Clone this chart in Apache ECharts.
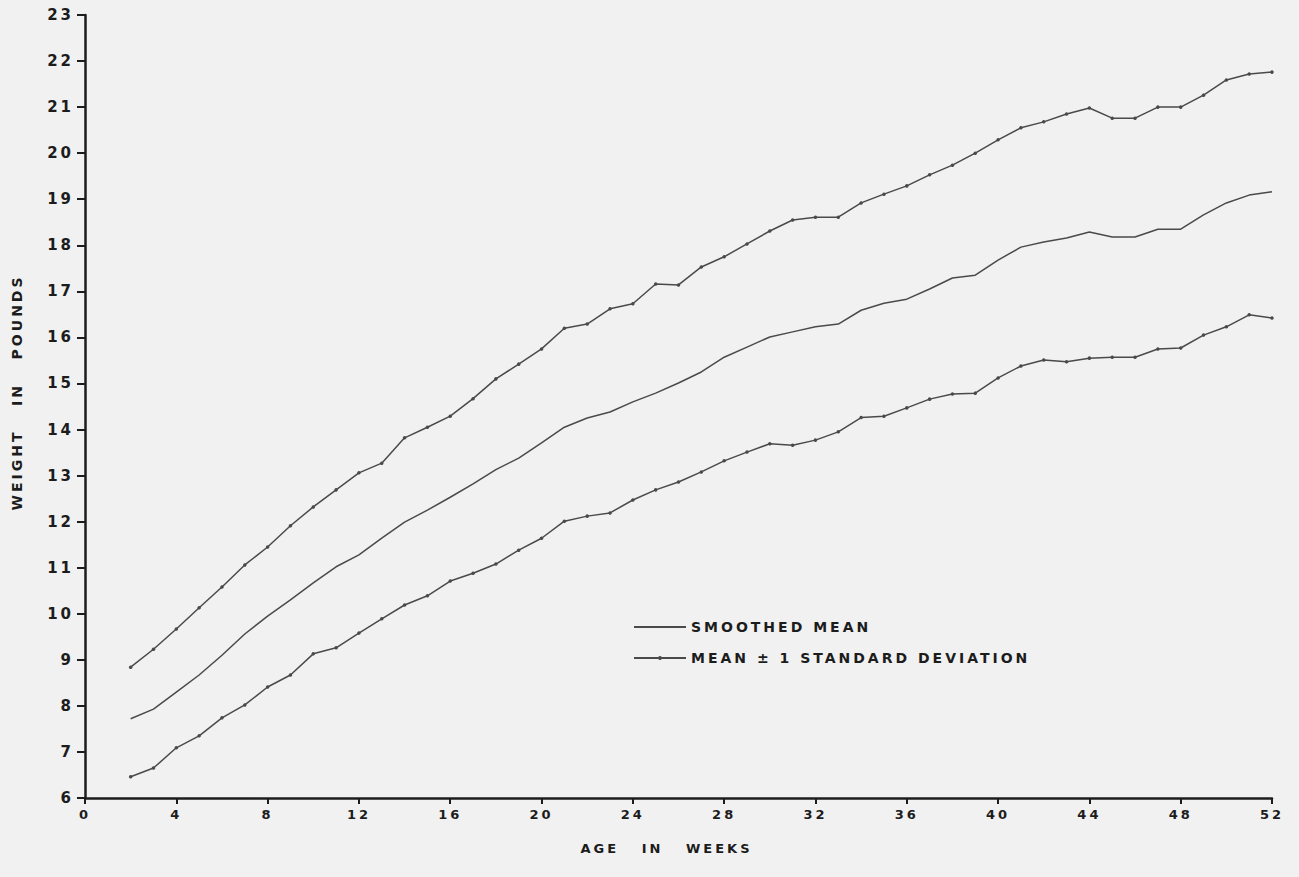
<!DOCTYPE html>
<html>
<head>
<meta charset="utf-8">
<script src="https://cdn.jsdelivr.net/npm/echarts@6/dist/echarts.min.js"></script>
<style>
  html, body { margin: 0; padding: 0; background: #f1f1f1; }
  #chart { width: 1299px; height: 877px; }
  #chart text { letter-spacing: 3px; }
</style>
</head>
<body>
<div id="chart"></div>
<script>
// Infant weight by age: smoothed mean and mean ± 1 standard deviation (pounds)
const weeks = [2, 3, 4, 5, 6, 7, 8, 9, 10, 11, 12, 13, 14, 15, 16, 17, 18, 19, 20, 21,
  22, 23, 24, 25, 26, 27, 28, 29, 30, 31, 32, 33, 34, 35, 36, 37, 38, 39, 40, 41,
  42, 43, 44, 45, 46, 47, 48, 49, 50, 51, 52];

const upperSD = [8.84, 9.23, 9.67, 10.13, 10.58, 11.06, 11.45, 11.91, 12.32, 12.69,
  13.06, 13.27, 13.82, 14.05, 14.29, 14.67, 15.10, 15.42, 15.75, 16.20,
  16.29, 16.62, 16.73, 17.16, 17.14, 17.53, 17.75, 18.03, 18.31, 18.55,
  18.61, 18.61, 18.92, 19.11, 19.29, 19.53, 19.74, 20.00, 20.29, 20.55,
  20.68, 20.85, 20.98, 20.76, 20.76, 21.00, 21.00, 21.26, 21.59, 21.72, 21.76];

const smoothedMean = [7.72, 7.93, 8.30, 8.67, 9.10, 9.56, 9.95, 10.30, 10.67, 11.02,
  11.28, 11.64, 11.99, 12.25, 12.53, 12.82, 13.13, 13.38, 13.71, 14.05,
  14.25, 14.38, 14.60, 14.79, 15.01, 15.25, 15.57, 15.79, 16.01, 16.12,
  16.23, 16.29, 16.59, 16.74, 16.83, 17.05, 17.29, 17.35, 17.68, 17.96,
  18.07, 18.16, 18.29, 18.18, 18.18, 18.35, 18.35, 18.66, 18.92, 19.09, 19.16];

const lowerSD = [6.46, 6.65, 7.09, 7.35, 7.74, 8.02, 8.41, 8.67, 9.13, 9.26,
  9.58, 9.89, 10.19, 10.39, 10.71, 10.88, 11.08, 11.38, 11.64, 12.01,
  12.12, 12.19, 12.47, 12.69, 12.86, 13.08, 13.32, 13.51, 13.69, 13.66,
  13.77, 13.95, 14.26, 14.29, 14.47, 14.66, 14.77, 14.79, 15.12, 15.38,
  15.51, 15.47, 15.55, 15.57, 15.57, 15.75, 15.77, 16.05, 16.23, 16.49, 16.42];

const MEAN_NAME = 'SMOOTHED MEAN';
const SD_NAME = 'MEAN \u00B1 1 STANDARD DEVIATION';

const ink = '#1c1c1c';
const pen = '#4a4a4a';
const font = '"DejaVu Sans", sans-serif';

const pairs = vals => weeks.map((w, i) => [w, vals[i]]);

const sdSeries = (vals) => ({
  name: SD_NAME,
  type: 'line',
  data: pairs(vals),
  symbol: 'circle',
  symbolSize: 3.5,
  showSymbol: true,
  lineStyle: { color: pen, width: 1.5 },
  itemStyle: { color: pen },
  emphasis: { disabled: true },
  silent: true,
  z: 3
});

const chart = echarts.init(document.getElementById('chart'), null, { renderer: 'svg' });

chart.setOption({
  backgroundColor: '#f1f1f1',
  animation: false,
  grid: {
    left: 85, right: 27, top: 15, bottom: 79,
    containLabel: false,
    outerBoundsMode: 'none'
  },
  legend: {
    orient: 'vertical',
    left: 628,
    top: 615,
    itemWidth: 52,
    itemHeight: 5,
    itemGap: 17,
    selectedMode: false,
    data: [
      { name: MEAN_NAME, itemStyle: { opacity: 0 } },
      { name: SD_NAME }
    ],
    textStyle: { color: ink, fontFamily: font, fontWeight: 'bold', fontSize: 14 }
  },
  xAxis: {
    type: 'value',
    min: 0,
    max: 52,
    interval: 4,
    name: 'AGE   IN   WEEKS',
    nameLocation: 'middle',
    nameGap: 44,
    nameTextStyle: {
      color: ink, fontFamily: font, fontWeight: 'bold', fontSize: 13,
      padding: [0, 24, 0, 0]
    },
    axisLine: { show: true, onZero: false, lineStyle: { color: ink, width: 2.5 } },
    axisTick: { show: true, length: 6, lineStyle: { color: ink, width: 2 } },
    axisLabel: {
      color: ink, fontFamily: font, fontWeight: 'bold', fontSize: 13, margin: 10
    },
    splitLine: { show: false }
  },
  yAxis: {
    type: 'value',
    min: 6,
    max: 23,
    interval: 1,
    name: 'WEIGHT   IN   POUNDS',
    nameLocation: 'middle',
    nameRotate: 90,
    nameGap: 61,
    nameTextStyle: {
      color: ink, fontFamily: font, fontWeight: 'bold', fontSize: 14,
      padding: [0, 0, 0, 28]
    },
    axisLine: { show: true, onZero: false, lineStyle: { color: ink, width: 2.5 } },
    axisTick: { show: true, length: 8, lineStyle: { color: ink, width: 2 } },
    axisLabel: {
      color: ink, fontFamily: font, fontWeight: 'bold', fontSize: 15, margin: 11
    },
    splitLine: { show: false }
  },
  series: [
    {
      name: MEAN_NAME,
      type: 'line',
      data: pairs(smoothedMean),
      symbol: 'none',
      showSymbol: false,
      lineStyle: { color: pen, width: 1.5 },
      itemStyle: { color: pen },
      emphasis: { disabled: true },
      silent: true,
      z: 3
    },
    sdSeries(upperSD),
    sdSeries(lowerSD)
  ]
});
</script>
</body>
</html>
